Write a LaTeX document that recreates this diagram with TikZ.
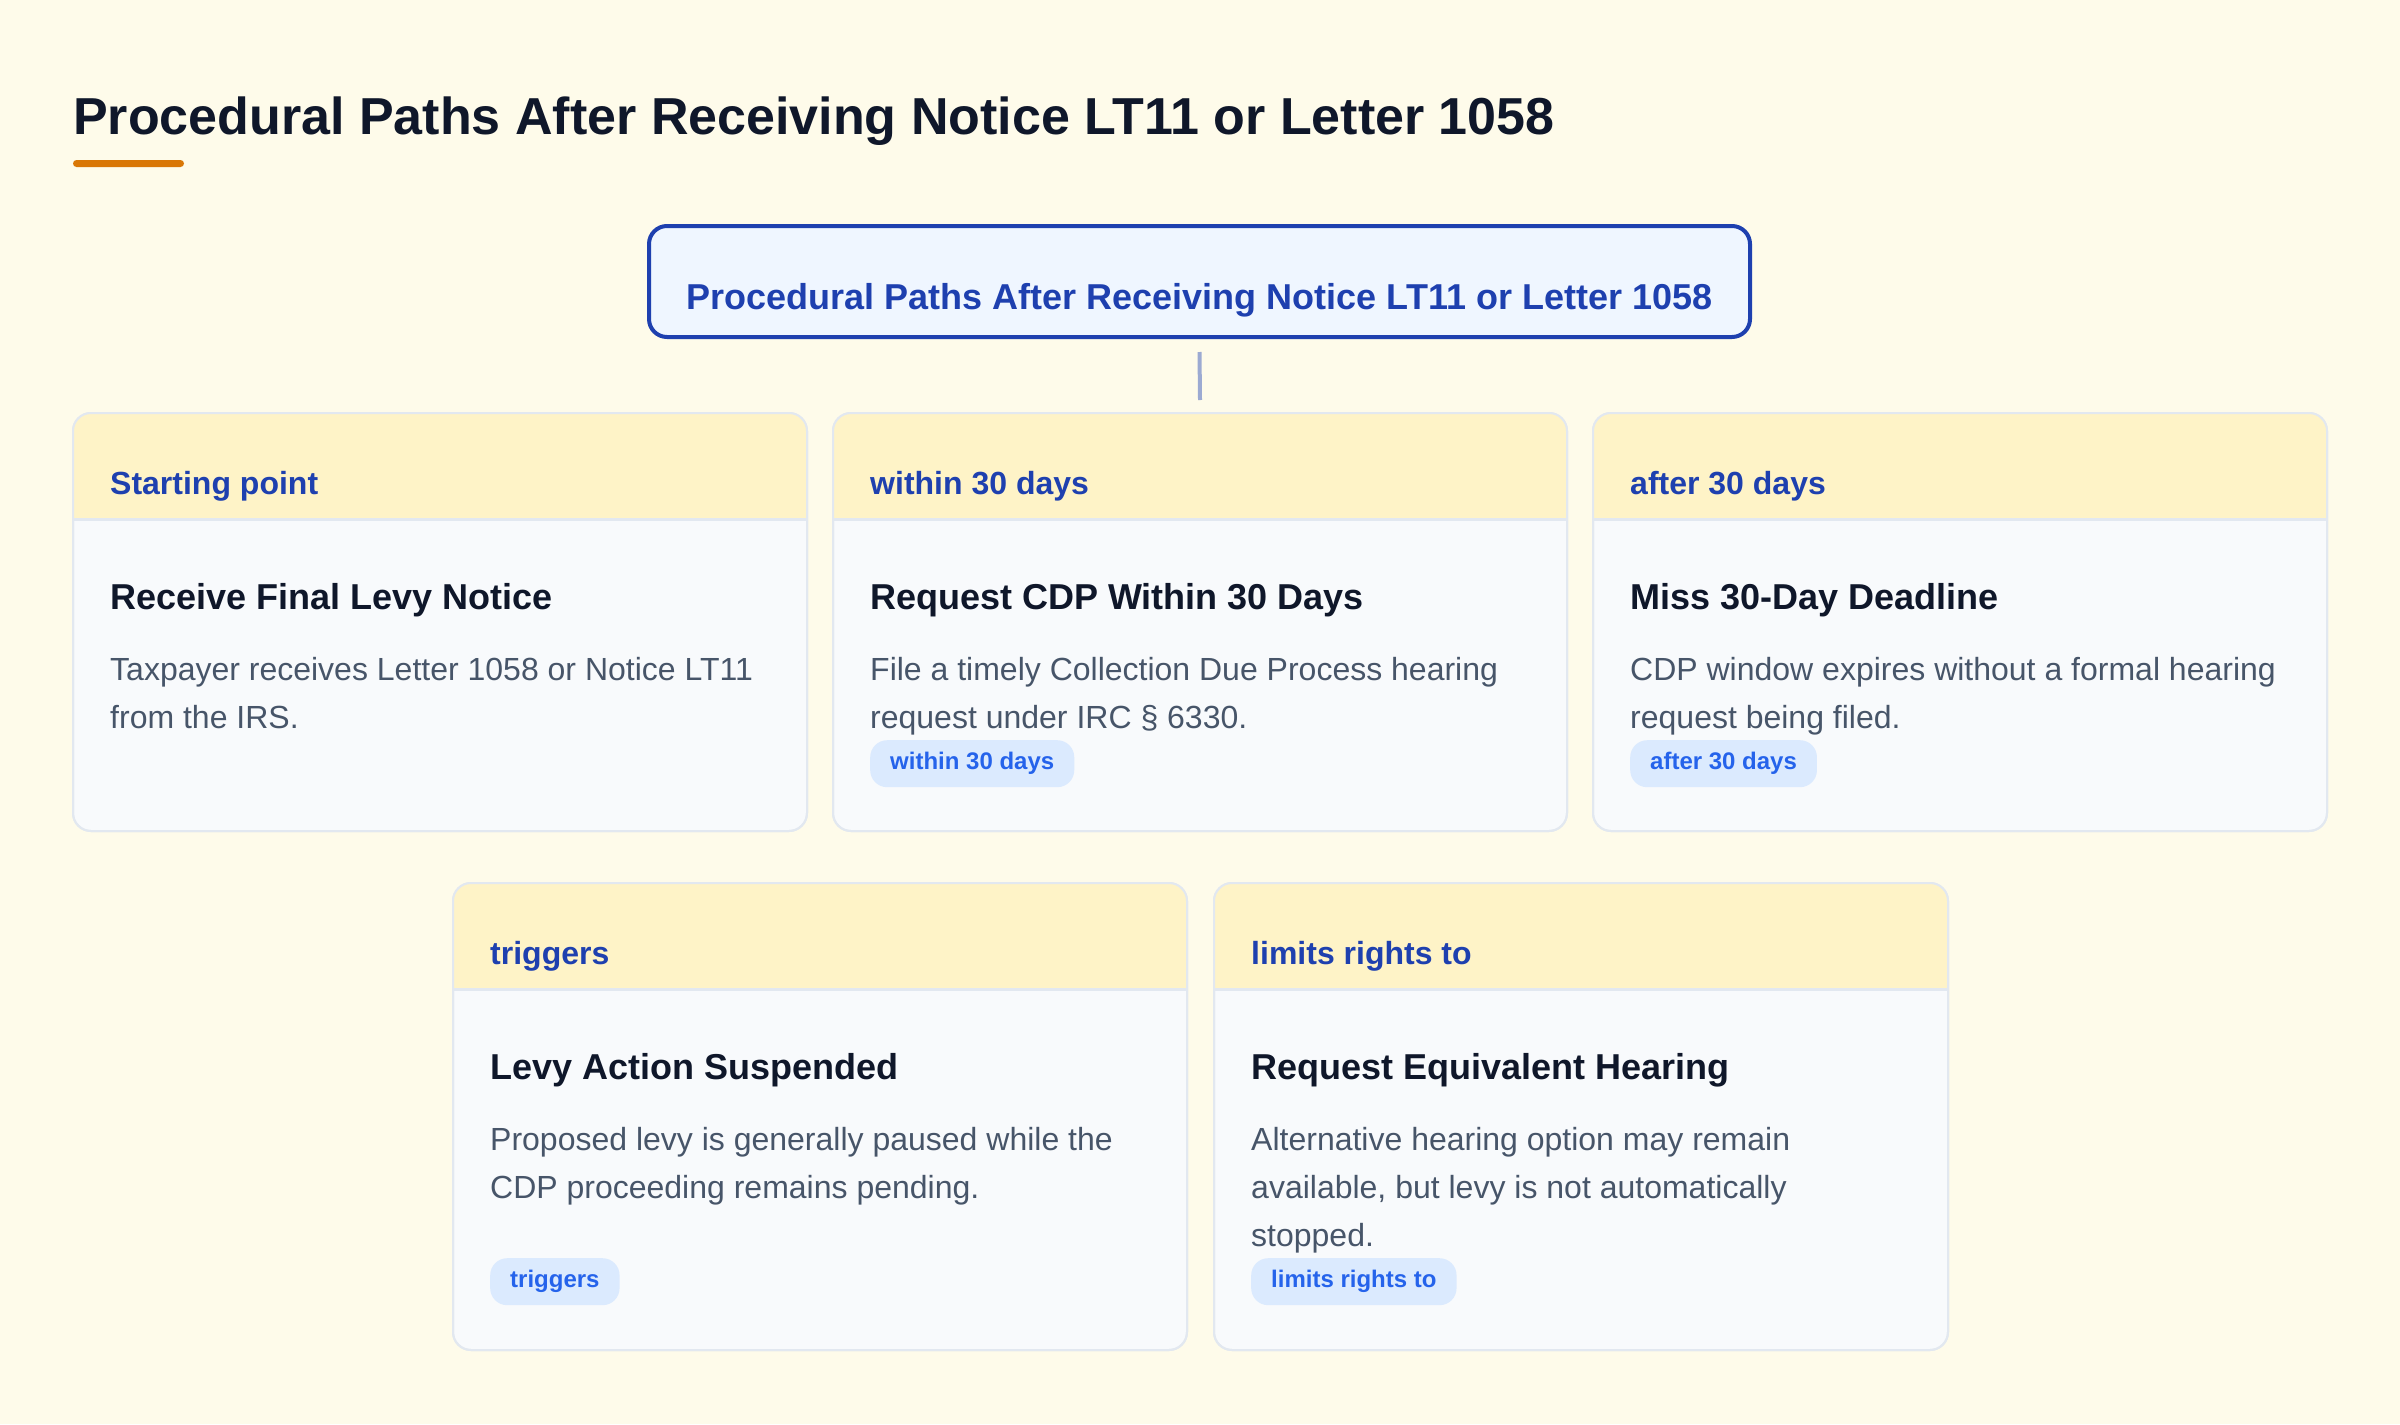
\documentclass[tikz,border=0pt]{standalone}
\usepackage{fontspec}
\setmainfont{Liberation Sans}
\usetikzlibrary{calc}
\definecolor{bgcream}{HTML}{FEFBEA}
\definecolor{accent}{HTML}{D97706}
\definecolor{inktitle}{HTML}{0F172A}
\definecolor{inkbody}{HTML}{475569}
\definecolor{headblue}{HTML}{1E40AF}
\definecolor{topfill}{HTML}{EFF6FF}
\definecolor{headfill}{HTML}{FEF3C7}
\definecolor{cardbody}{HTML}{F8FAFC}
\definecolor{cardline}{HTML}{E2E8F0}
\definecolor{pillfill}{HTML}{DBEAFE}
\definecolor{pilltext}{HTML}{2563EB}
\definecolor{linkgray}{HTML}{9CAAD2}
\tikzstyle{maintitle}=[font=\bfseries\fontsize{52}{60}\selectfont, text=inktitle, inner sep=0pt]
\tikzstyle{topbox}=[draw=headblue, fill=topfill, line width=4pt, rounded corners=18pt, minimum width=1101pt, minimum height=111pt, inner sep=0pt, text height=63pt, text depth=8pt, font=\bfseries\fontsize{36}{40}\selectfont, text=headblue]
\tikzstyle{card}=[draw=cardline, fill=cardbody, line width=2pt, rounded corners=18pt, minimum width=734pt, inner sep=0pt, outer sep=0pt]
\tikzstyle{headtext}=[font=\bfseries\fontsize{32}{36}\selectfont, text=headblue, inner sep=0pt]
\tikzstyle{cardtitle}=[font=\bfseries\fontsize{36}{40}\selectfont, text=inktitle, inner sep=0pt]
\tikzstyle{cardbodytext}=[font=\fontsize{32}{48}\selectfont, text=inkbody, align=left, inner sep=0pt]
\tikzstyle{pill}=[fill=pillfill, text=pilltext, font=\bfseries\fontsize{24}{26}\selectfont, rounded corners=17pt, inner xsep=20pt, inner ysep=0pt, minimum height=47pt, text height=17pt, text depth=5pt]
\tikzstyle{link}=[draw=linkgray, line width=4pt]

\begin{document}
\begin{tikzpicture}[x=1pt, y=-1pt]

    \fill[bgcream] (0,0) rectangle (2400,1424);
    \useasboundingbox (0,0) rectangle (2400,1424);

    % page heading
    \node[maintitle, anchor=base west] (heading) at (73,134) {Procedural Paths After Receiving Notice LT11 or Letter 1058};
    \fill[accent, rounded corners=3.5pt] (73,160) rectangle (184,167);

    \node[topbox] (top) at (1199.5,281.5) {Procedural Paths After Receiving Notice LT11 or Letter 1058};

    % cards with their yellow header bands
    \foreach \name/\x/\y/\h/\head in {c1/73/413/418/{Starting point}, c2/833/413/418/{within 30 days}, c3/1593/413/418/{after 30 days}, c4/453/883/467/{triggers}, c5/1214/883/467/{limits rights to}}
    {
        \node[card, minimum height=\h pt, anchor=north west] (\name) at (\x,\y) {};
        \begin{scope}
            \clip[rounded corners=18pt] (\name.north west) rectangle (\name.south east);
            \fill[headfill] (\name.north west) rectangle ([yshift=-106pt]\name.north east);
        \end{scope}
        \draw[draw=cardline, line width=3pt] ([yshift=-106pt]\name.north west) -- ([yshift=-106pt]\name.north east);
        \draw[draw=cardline, line width=2pt, rounded corners=18pt] (\name.north west) rectangle (\name.south east);
        \node[headtext, anchor=base west] (\name-head) at ([xshift=37pt,yshift=-81pt]\name.north west) {\head};
    }

    % titles and descriptions (\last = baseline of the last line)
    \foreach \name/\last/\title/\body in {c1/315/{Receive Final Levy Notice}/{Taxpayer receives Letter 1058 or Notice LT11\\from the IRS.}, c2/315/{Request CDP Within 30 Days}/{File a timely Collection Due Process hearing\\request under IRC § 6330.}, c3/315/{Miss 30-Day Deadline}/{CDP window expires without a formal hearing\\request being filed.}, c4/315/{Levy Action Suspended}/{Proposed levy is generally paused while the\\CDP proceeding remains pending.}, c5/363/{Request Equivalent Hearing}/{Alternative hearing option may remain\\available, but levy is not automatically\\stopped.}}
    {
        \node[cardtitle, anchor=base west] (\name-title) at ([xshift=37pt,yshift=-196pt]\name.north west) {\title};
        \node[cardbodytext, anchor=base west] (\name-text) at ([xshift=37pt,yshift=-\last pt]\name.north west) {\body};
    }

    % tags
    \foreach \name/\dy/\tag in {c2/327/{within 30 days}, c3/327/{after 30 days}, c4/375/{triggers}, c5/375/{limits rights to}}
        \node[pill, anchor=north west] (\name-tag) at ([xshift=37pt,yshift=-\dy pt]\name.north west) {\tag};

    \path[link] ([yshift=-13pt]top.south) -- ([yshift=13pt]c2.north);

\end{tikzpicture}
\end{document}
